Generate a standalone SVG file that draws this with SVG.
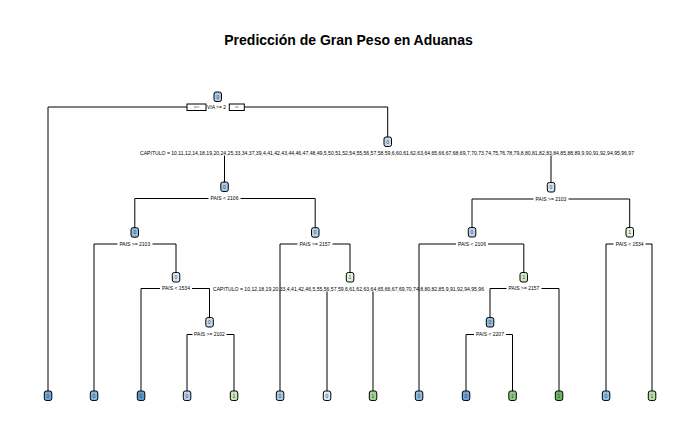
<svg xmlns="http://www.w3.org/2000/svg" width="700" height="432" viewBox="0 0 700 432">
<style>
.title{font-family:"Liberation Sans",Arial,sans-serif;font-size:14px;font-weight:bold;fill:#000;text-anchor:middle}
.lbl{font-family:"Liberation Sans",Arial,sans-serif;font-size:5px;fill:#000;text-anchor:middle}
.yn{font-family:"Liberation Sans",Arial,sans-serif;font-size:3.2px;fill:#666;text-anchor:middle}
.ynbox{fill:#fff;stroke:#000;stroke-width:1}
.nd{stroke:#000;stroke-width:1}
.nt{font-family:"Liberation Sans",Arial,sans-serif;font-size:5px;fill:#445;text-anchor:middle}
.ln{stroke:#000;stroke-width:1;fill:none}
</style>
<rect width="700" height="432" fill="#fff"/>
<text class="title" x="348.5" y="45">Predicción de Gran Peso en Aduanas</text>

<g id="connectors" class="ln">
  <!-- root -->
  <path d="M48,107 H187 M244,107 H387.7 M48,107 V391 M387.7,107 V137"/>
  <!-- CAPITULO split 1 -->
  <path d="M224.5,155.5 V182 M551,155.5 V182.5"/>
  <!-- PAIS < 2106 -->
  <path d="M134.8,198.5 H208.5 M240.5,198.5 H315.2 M134.8,198.5 V227.7 M315.2,198.5 V227.7"/>
  <!-- PAIS >= 2103 right -->
  <path d="M472,199 H533.5 M568.5,199 H629.7 M472,199 V227.5 M629.7,199 V227.5"/>
  <!-- PAIS >= 2103 left -->
  <path d="M94,244 H117.5 M152.5,244 H176 M94,244 V391 M176,244 V272.5"/>
  <!-- PAIS >= 2157 -->
  <path d="M280,244 H297.5 M332.5,244 H350 M280,244 V391 M350,244 V272.5"/>
  <!-- PAIS < 2106 -->
  <path d="M419,244 H456 M488,244 H523.8 M419,244 V391 M523.8,244 V272.5"/>
  <!-- PAIS < 1534 right -->
  <path d="M606,244 H613.5 M645.5,244 H652 M606,244 V391 M652,244 V391"/>
  <!-- PAIS < 1534 left -->
  <path d="M141,288.5 H160 M192,288.5 H209.5 M141,288.5 V391 M209.5,288.5 V317.5"/>
  <!-- CAPITULO split 2 -->
  <path d="M327,291.5 V391 M373,291.5 V391"/>
  <!-- PAIS >= 2157 -->
  <path d="M490,288.5 H506.5 M541.5,288.5 H559 M490,288.5 V317.5 M559,288.5 V391"/>
  <!-- PAIS >= 2102 -->
  <path d="M187,334.5 H192.5 M226.5,334.5 H234 M187,334.5 V391 M234,334.5 V391"/>
  <!-- PAIS < 2207 -->
  <path d="M466,334.5 H474 M506,334.5 H512.5 M466,334.5 V391 M512.5,334.5 V391"/>
</g>

<g id="labels">
  <rect class="ynbox" x="187" y="104" width="19" height="6.5"/>
  <text class="yn" x="196.5" y="108.3">yes</text>
  <rect class="ynbox" x="229.3" y="104" width="15" height="6.5"/>
  <text class="yn" x="236.8" y="108.3">no</text>
  <text class="lbl" x="216.5" y="108.8">VIA &gt;= 2</text>
  <text class="lbl" x="387" y="154.8" textLength="494" lengthAdjust="spacingAndGlyphs">CAPITULO = 10,11,12,14,18,19,20,24,25,33,34,37,39,4,41,42,43,44,46,47,48,49,5,50,51,52,54,55,56,57,58,59,6,60,61,62,63,64,65,66,67,68,69,7,70,73,74,75,76,78,79,8,80,81,82,83,84,85,88,89,9,90,91,92,94,95,96,97</text>
  <text class="lbl" x="224.5" y="200.3">PAIS &lt; 2106</text>
  <text class="lbl" x="551" y="200.8">PAIS &gt;= 2103</text>
  <text class="lbl" x="134.8" y="245.8">PAIS &gt;= 2103</text>
  <text class="lbl" x="315" y="245.8">PAIS &gt;= 2157</text>
  <text class="lbl" x="472" y="245.8">PAIS &lt; 2106</text>
  <text class="lbl" x="629.7" y="245.8">PAIS &lt; 1534</text>
  <text class="lbl" x="176" y="290.3">PAIS &lt; 1534</text>
  <text class="lbl" x="348.5" y="290.8" textLength="271" lengthAdjust="spacingAndGlyphs">CAPITULO = 10,12,18,19,20,33,4,41,42,46,5,55,56,57,59,6,61,62,63,64,65,66,67,69,70,74,8,80,82,85,9,91,92,94,95,96</text>
  <text class="lbl" x="524" y="290.3">PAIS &gt;= 2157</text>
  <text class="lbl" x="209.5" y="336.3">PAIS &gt;= 2102</text>
  <text class="lbl" x="490" y="336.3">PAIS &lt; 2207</text>
</g>

<g id="n1"><rect class="nd" x="214" y="92" width="7.5" height="9.5" rx="2" fill="#a9cae6"/><text class="nt" x="217.8" y="98.5">0</text></g>
<g id="n3"><rect class="nd" x="384" y="137" width="7.5" height="9.5" rx="2" fill="#c6dbef"/><text class="nt" x="387.7" y="143.5">0</text></g>
<g id="n6"><rect class="nd" x="220.8" y="182" width="7.5" height="9.5" rx="2" fill="#a9cae6"/><text class="nt" x="224.5" y="188.5">0</text></g>
<g id="n7"><rect class="nd" x="547.3" y="182.5" width="7.5" height="9.5" rx="2" fill="#d3e3f3"/><text class="nt" x="551" y="189">0</text></g>
<g id="n12"><rect class="nd" x="131" y="227.7" width="7.5" height="9.5" rx="2" fill="#8fbbe0"/><text class="nt" x="134.8" y="234.2">0</text></g>
<g id="n13"><rect class="nd" x="311.5" y="227.7" width="7.5" height="9.5" rx="2" fill="#b7d3ec"/><text class="nt" x="315.2" y="234.2">0</text></g>
<g id="n14"><rect class="nd" x="468.3" y="227.5" width="7.5" height="9.5" rx="2" fill="#b8d3eb"/><text class="nt" x="472" y="234">0</text></g>
<g id="n15"><rect class="nd" x="626" y="227.5" width="7.5" height="9.5" rx="2" fill="#e5f3dc"/><text class="nt" x="629.7" y="234">1</text></g>
<g id="n25"><rect class="nd" x="172.3" y="272.5" width="7.5" height="9.5" rx="2" fill="#d9e7f4"/><text class="nt" x="176" y="279">0</text></g>
<g id="n27"><rect class="nd" x="346.3" y="272.5" width="7.5" height="9.5" rx="2" fill="#e4f3dc"/><text class="nt" x="350" y="279">1</text></g>
<g id="n29"><rect class="nd" x="520" y="272.5" width="7.5" height="9.5" rx="2" fill="#cde9bf"/><text class="nt" x="523.8" y="279">1</text></g>
<g id="n51"><rect class="nd" x="205.8" y="317.5" width="7.5" height="9.5" rx="2" fill="#c6dbef"/><text class="nt" x="209.5" y="324">0</text></g>
<g id="n58"><rect class="nd" x="486.3" y="317.5" width="7.5" height="9.5" rx="2" fill="#8ebde1"/><text class="nt" x="490" y="324">0</text></g>

<g id="leaf2"><rect class="nd" x="44.3" y="391" width="7.5" height="9.5" rx="2" fill="#6fa8d6"/><text class="nt" x="48" y="397.5">0</text></g>
<g id="leaf24"><rect class="nd" x="90.3" y="391" width="7.5" height="9.5" rx="2" fill="#80b4dc"/><text class="nt" x="94" y="397.5">0</text></g>
<g id="leaf50"><rect class="nd" x="137.3" y="391" width="7.5" height="9.5" rx="2" fill="#5b9bd0"/><text class="nt" x="141" y="397.5">0</text></g>
<g id="leaf102"><rect class="nd" x="183.3" y="391" width="7.5" height="9.5" rx="2" fill="#b8d3eb"/><text class="nt" x="187" y="397.5">0</text></g>
<g id="leaf103"><rect class="nd" x="230.3" y="391" width="7.5" height="9.5" rx="2" fill="#c8e6b8"/><text class="nt" x="234" y="397.5">1</text></g>
<g id="leaf26"><rect class="nd" x="276.3" y="391" width="7.5" height="9.5" rx="2" fill="#a9cbe7"/><text class="nt" x="280" y="397.5">0</text></g>
<g id="leaf54"><rect class="nd" x="323.3" y="391" width="7.5" height="9.5" rx="2" fill="#dbe8f5"/><text class="nt" x="327" y="397.5">0</text></g>
<g id="leaf55"><rect class="nd" x="369.3" y="391" width="7.5" height="9.5" rx="2" fill="#a2d290"/><text class="nt" x="373" y="397.5">1</text></g>
<g id="leaf28"><rect class="nd" x="415.3" y="391" width="7.5" height="9.5" rx="2" fill="#8fbee2"/><text class="nt" x="419" y="397.5">0</text></g>
<g id="leaf116"><rect class="nd" x="462.3" y="391" width="7.5" height="9.5" rx="2" fill="#6ca7d7"/><text class="nt" x="466" y="397.5">0</text></g>
<g id="leaf117"><rect class="nd" x="508.8" y="391" width="7.5" height="9.5" rx="2" fill="#8dcb7d"/><text class="nt" x="512.5" y="397.5">1</text></g>
<g id="leaf59"><rect class="nd" x="555.3" y="391" width="7.5" height="9.5" rx="2" fill="#69b65f"/><text class="nt" x="559" y="397.5">1</text></g>
<g id="leaf30"><rect class="nd" x="602.3" y="391" width="7.5" height="9.5" rx="2" fill="#90c0e3"/><text class="nt" x="606" y="397.5">0</text></g>
<g id="leaf31"><rect class="nd" x="648.3" y="391" width="7.5" height="9.5" rx="2" fill="#b5dfa3"/><text class="nt" x="652" y="397.5">1</text></g>
</svg>
